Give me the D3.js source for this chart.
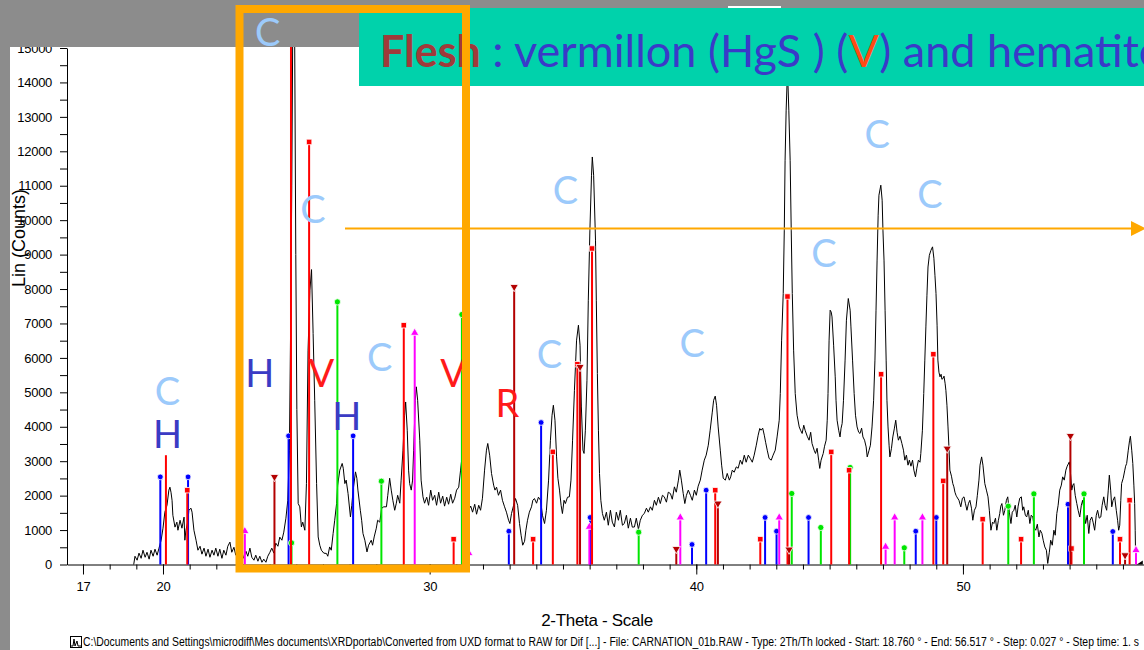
<!DOCTYPE html>
<html><head><meta charset="utf-8">
<script src="https://cdn.jsdelivr.net/npm/d3@7"></script>
<style>
html,body{margin:0;padding:0;background:#fff;overflow:hidden;}
svg{display:block;}
text{white-space:pre;}
</style></head>
<body><svg id="chart" width="1144" height="650"></svg>
<script>
// Measured scan: [2-theta (deg), intensity (counts)]
const scan = [
[18.90,0],[18.91,40],[18.95,240],[19.03,125],[19.10,330],[19.18,180],[19.25,415],[19.33,210],[19.40,355],[19.48,155],
[19.55,415],[19.63,240],[19.70,445],[19.78,270],[19.85,475],[19.93,705],[20.00,1055],[20.07,1520],[20.15,1720],[20.22,2160],
[20.26,2245],[20.30,2100],[20.34,1865],[20.37,1430],[20.45,1085],[20.52,1230],[20.56,995],[20.64,1285],[20.71,1055],[20.79,1375],
[20.82,705],[20.86,995],[20.94,1285],[20.97,1575],[21.05,1635],[21.09,1520],[21.16,995],[21.24,705],[21.31,415],[21.39,530],
[21.46,300],[21.54,475],[21.61,240],[21.69,445],[21.76,210],[21.84,415],[21.91,270],[21.98,475],[22.06,240],[22.13,445],
[22.21,180],[22.28,415],[22.36,270],[22.43,530],[22.51,650],[22.58,355],[22.66,500],[22.73,270],[22.81,445],[22.88,240],
[22.96,355],[23.03,180],[23.11,385],[23.18,240],[23.26,475],[23.33,210],[23.41,125],[23.48,270],[23.56,95],[23.63,240],
[23.71,65],[23.78,155],[23.86,65],[23.93,240],[24.01,355],[24.08,475],[24.16,330],[24.23,620],[24.31,530],[24.38,795],
[24.46,705],[24.53,940],[24.61,1345],[24.68,1865],[24.74,3320],[24.79,7190],[24.83,11010],[24.87,16000],[24.91,18000],[24.94,15000],
[24.98,9000],[25.02,4500],[25.07,1770],[25.13,1675],[25.19,1090],[25.24,1230],[25.32,995],[25.38,2350],[25.44,6225],[25.51,7965],
[25.57,8565],[25.63,6710],[25.69,4770],[25.76,2350],[25.82,800],[25.88,560],[25.94,415],[26.03,330],[26.13,320],[26.18,240],
[26.25,510],[26.31,415],[26.38,900],[26.44,1285],[26.51,1770],[26.55,2300],[26.63,2740],[26.72,2935],[26.76,2795],[26.82,2350],
[26.87,2450],[26.94,2060],[27.03,1380],[27.08,1720],[27.13,2160],[27.22,2690],[27.27,2505],[27.31,2160],[27.40,1575],[27.45,1285],
[27.50,900],[27.57,705],[27.65,365],[27.71,560],[27.81,705],[27.86,560],[27.92,800],[28.00,1055],[28.05,1285],[28.13,1230],
[28.20,1635],[28.28,1675],[28.38,1675],[28.43,2010],[28.50,2505],[28.56,2160],[28.62,1865],[28.69,1575],[28.75,1780],[28.80,2010],
[28.88,1780],[28.93,2450],[29.00,3320],[29.06,4335],[29.10,4720],[29.16,3900],[29.21,2740],[29.25,2350],[29.31,2160],[29.36,2450],
[29.40,3320],[29.46,4770],[29.50,5160],[29.55,4770],[29.63,3610],[29.68,2450],[29.75,1965],[29.81,1780],[29.89,1955],[29.96,1720],
[30.04,2160],[30.11,1865],[30.19,2010],[30.26,1720],[30.34,2100],[30.41,1780],[30.49,1985],[30.56,1695],[30.64,1955],[30.71,1750],
[30.79,2040],[30.86,1780],[30.94,1925],[31.01,2160],[31.09,2245],[31.16,2740],[31.20,3030],[31.24,2795],[31.31,2160],[31.39,1720],
[31.46,1575],[31.54,1695],[31.61,1520],[31.69,1750],[31.76,1460],[31.84,1720],[31.91,1575],[31.98,1925],[32.06,2740],[32.13,3320],
[32.18,3515],[32.25,3175],[32.32,2645],[32.40,2305],[32.45,2160],[32.51,2245],[32.58,2010],[32.66,2160],[32.73,1865],[32.81,1675],
[32.88,1520],[32.96,1285],[33.01,1190],[33.07,1480],[33.15,1720],[33.22,1915],[33.30,1720],[33.37,1190],[33.43,850],[33.49,560],
[33.56,675],[33.61,995],[33.67,1285],[33.74,1520],[33.82,1675],[33.87,1865],[33.93,1915],[34.01,1780],[34.08,1955],[34.16,1865],
[34.23,1430],[34.31,1190],[34.38,1575],[34.46,2450],[34.53,3610],[34.59,4335],[34.64,4625],[34.70,4190],[34.76,3125],[34.81,2505],
[34.87,2160],[34.93,1720],[34.98,1480],[35.04,1865],[35.09,1770],[35.17,1955],[35.24,1965],[35.30,2450],[35.36,3610],[35.43,5060],
[35.51,6515],[35.58,6950],[35.64,6370],[35.69,4575],[35.75,3320],[35.79,3225],[35.84,3900],[35.90,5350],[35.95,7675],[36.01,9710],
[36.07,11305],[36.10,11835],[36.15,11305],[36.22,9420],[36.25,7675],[36.29,5545],[36.33,3900],[36.37,2645],[36.42,1865],[36.48,1480],
[36.55,1285],[36.63,1520],[36.70,1140],[36.78,1575],[36.85,1230],[36.93,1090],[37.00,1520],[37.08,1285],[37.15,1575],[37.23,1140],
[37.30,1190],[37.38,1430],[37.45,1055],[37.53,1345],[37.60,1085],[37.68,1090],[37.75,1345],[37.83,1025],[37.90,1285],[37.98,1430],
[38.05,1480],[38.13,1635],[38.20,1520],[38.28,1675],[38.35,1575],[38.43,1865],[38.50,1720],[38.58,1955],[38.65,1770],[38.73,2010],
[38.80,1965],[38.88,1810],[38.95,2100],[39.03,2060],[39.10,1895],[39.18,2255],[39.25,2100],[39.33,2450],[39.38,2740],[39.44,2450],
[39.51,2060],[39.57,1770],[39.63,2010],[39.70,2160],[39.78,2010],[39.85,1865],[39.93,2160],[40.00,2010],[40.07,2275],[40.15,2450],
[40.22,2740],[40.30,3030],[40.37,3175],[40.45,3465],[40.52,3900],[40.60,4425],[40.65,4770],[40.71,4890],[40.76,4625],[40.82,3995],
[40.90,3320],[40.95,2885],[41.01,2505],[41.09,2450],[41.16,2645],[41.24,2450],[41.29,2545],[41.35,2740],[41.42,2680],[41.50,2835],
[41.57,2795],[41.65,3030],[41.72,2910],[41.80,3175],[41.87,2970],[41.95,3175],[42.02,3085],[42.10,2970],[42.17,3175],[42.25,3465],
[42.32,3755],[42.38,3950],[42.43,3900],[42.49,3960],[42.55,3755],[42.60,3550],[42.66,3320],[42.73,3080],[42.81,3030],[42.88,3175],
[42.96,3320],[43.03,3705],[43.11,4190],[43.15,4965],[43.20,6515],[43.26,7870],[43.30,9710],[43.33,11740],[43.37,13195],[43.42,14355],
[43.47,13195],[43.52,11740],[43.56,9710],[43.60,7870],[43.65,6225],[43.71,4965],[43.78,4335],[43.86,3995],[43.91,3900],[43.97,3805],
[44.03,4045],[44.08,3900],[44.16,3725],[44.23,3610],[44.29,3840],[44.34,3515],[44.42,3320],[44.47,3225],[44.53,3375],[44.59,3030],
[44.63,2790],[44.68,3030],[44.76,3225],[44.81,3435],[44.87,3610],[44.91,4190],[44.94,4965],[44.98,6515],[45.02,7385],[45.06,7330],
[45.09,7190],[45.15,6370],[45.21,5450],[45.24,4770],[45.28,4190],[45.34,3900],[45.39,3705],[45.43,3960],[45.47,4095],[45.52,4770],
[45.58,5935],[45.63,7095],[45.70,7725],[45.77,7385],[45.80,6900],[45.86,5935],[45.92,4965],[45.97,4335],[46.03,3995],[46.09,3840],
[46.14,3805],[46.20,3960],[46.25,3705],[46.31,3610],[46.37,3415],[46.41,3125],[46.48,3320],[46.53,3465],[46.59,3995],[46.65,4770],
[46.70,5935],[46.74,7385],[46.78,8840],[46.82,10145],[46.85,10725],[46.92,11015],[46.97,10580],[47.00,9710],[47.04,8840],[47.08,7385],
[47.12,5935],[47.15,4770],[47.19,3995],[47.23,3465],[47.26,3125],[47.32,3375],[47.37,3705],[47.43,3960],[47.48,4190],[47.53,3840],
[47.58,3610],[47.64,3725],[47.71,3515],[47.77,3320],[47.82,3030],[47.88,3175],[47.94,2885],[47.99,3030],[48.05,2855],[48.11,3030],
[48.16,2740],[48.22,2545],[48.27,2795],[48.33,3030],[48.39,2970],[48.42,3225],[48.48,3900],[48.53,4965],[48.57,5935],[48.61,6900],
[48.65,7820],[48.69,8640],[48.74,8980],[48.80,9125],[48.86,9225],[48.91,8895],[48.95,8400],[48.99,7870],[49.03,6950],[49.06,5935],
[49.10,5585],[49.14,5450],[49.18,5525],[49.21,5380],[49.25,5400],[49.29,5470],[49.33,5265],[49.36,5060],[49.40,4625],[49.44,3995],
[49.48,3320],[49.51,2740],[49.57,2565],[49.62,2350],[49.66,2255],[49.70,2100],[49.74,2010],[49.77,1965],[49.85,1865],[49.92,1675],
[49.98,1925],[50.04,1965],[50.09,1780],[50.15,1575],[50.21,1780],[50.26,1865],[50.32,1635],[50.37,1285],[50.43,1575],[50.49,1675],
[50.54,2010],[50.60,2450],[50.64,2885],[50.70,3125],[50.75,2885],[50.82,2350],[50.88,2160],[50.94,1965],[50.99,1575],[51.05,995],
[51.11,1230],[51.16,1190],[51.22,1345],[51.27,995],[51.33,1285],[51.38,1480],[51.42,1695],[51.46,1770],[51.52,1430],[51.57,1575],
[51.63,1865],[51.68,1965],[51.74,1520],[51.80,1190],[51.85,1520],[51.91,1575],[51.96,1720],[52.02,1380],[52.07,1695],[52.13,1925],
[52.19,1965],[52.24,1575],[52.28,1675],[52.34,1430],[52.39,1380],[52.45,1575],[52.51,1190],[52.56,1430],[52.62,1380],[52.68,1055],
[52.73,995],[52.79,1170],[52.85,800],[52.90,995],[52.96,900],[53.01,705],[53.07,510],[53.13,415],[53.18,30],[53.24,355],
[53.29,705],[53.35,560],[53.41,995],[53.46,850],[53.52,1480],[53.57,1720],[53.63,2160],[53.69,2305],[53.74,2545],[53.80,2450],
[53.86,2740],[53.91,2855],[53.99,2980],[54.04,2595],[54.08,2160],[54.12,2305],[54.16,2350],[54.21,2010],[54.27,1770],[54.32,1575],
[54.38,1380],[54.44,1720],[54.49,1865],[54.55,1520],[54.60,1190],[54.66,1430],[54.72,900],[54.77,1285],[54.83,1380],[54.88,1230],
[54.94,995],[55.00,1430],[55.05,1575],[55.11,1345],[55.17,1380],[55.22,1720],[55.28,1965],[55.33,1720],[55.39,1575],[55.45,2160],
[55.49,2595],[55.54,2160],[55.58,1675],[55.63,1865],[55.69,1965],[55.75,1575],[55.80,1285],[55.84,995],[55.88,1140],[55.92,1865],
[55.95,2350],[56.01,2505],[56.07,2740],[56.10,2855],[56.14,2935],[56.20,3320],[56.25,3610],[56.28,3725],[56.33,3320],[56.37,2935],
[56.41,2305],[56.44,1770],[56.46,995],[56.48,40],[56.52,10]
];

// Reference patterns: [2-theta (deg), intensity (counts)]
const patBlue = [[19.90,2544],[20.94,2544],[24.71,3735],[27.13,3735],[32.97,967],[34.18,4124],[36.02,1365],[39.84,581],
  [40.37,2158],[42.58,1365],[43.01,967],[44.21,1365],[48.23,967],[49.00,1365],[53.94,1751],[55.62,958]];
const patRed = [[20.91,2158],[25.48,12272],[29.03,6949],[30.90,735],[33.88,735],[34.62,3270],[35.54,5817],[36.09,9177],
  [40.71,2158],[42.40,735],[43.42,7783],[45.06,3270],[45.73,2738],[46.93,5526],[48.89,6107],[49.26,2428],[50.74,1316],
  [52.18,735],[54.07,464],[55.89,735],[56.25,1867]];
const patRedPlain = [[20.11,3174],[24.80,17000]];
const patDarkRed = [[24.18,2544],[33.17,8061],[35.64,5738],[39.25,453],[40.81,1771],[43.48,435],[49.41,3368],[54.03,3735],[56.08,270]];
const patGreen = [[24.82,627],[26.54,7626],[28.19,2419],[31.21,7260],[37.84,938],[43.58,2062],[44.67,1074],[45.77,2817],
  [47.80,484],[51.70,1693],[52.66,2051],[54.54,2051]];
const patMagenta = [[23.07,967],[29.44,6726],[31.47,328],[35.99,1093],[39.40,1365],[43.11,1365],[47.10,513],[47.44,1365],
  [48.48,1365],[56.49,416]];

// Axis ticks
const yTicks = d3.range(0, 15001, 500);
const xMinorTicks = d3.range(17, 57, 1);
const xMajorTicks = [17, 20, 30, 40, 50];

// Phase letters placed at [2-theta, counts] (text baseline)
const phaseLetters = [
  ["C",23.93,15066],["C",25.62,9926],["C",20.17,4626],["H",20.17,3386],["H",23.63,5158],["V",25.94,5158],
  ["H",26.89,3920],["C",28.13,5628],["V",30.88,5158],["R",32.92,4286],["C",34.49,5701],["C",35.09,10463],
  ["C",39.85,6020],["C",44.79,8634],["C",46.78,12089],["C",48.76,10361]
];
const letterColors = {C:"#9ccafb", H:"#3b3bc4", V:"#ff1a1a", R:"#ff1a1a"};

const W = 1144, H = 650;
const svg = d3.select("#chart");
const x = d3.scaleLinear().domain([16.4, 56.79]).range([67, 1144]);
const y = d3.scaleLinear().domain([0, 15000]).range([564.5, 48]);

svg.append("rect").attr("width", W).attr("height", H).attr("fill", "#fff");

svg.append("defs").append("clipPath").attr("id", "plotClip")
  .append("rect").attr("x", 67).attr("y", 47).attr("width", W - 67).attr("height", 518);

const tickFont = "'Liberation Sans Narrow','Arial Narrow','Liberation Sans',Arial,sans-serif";
const labelFont = "'Liberation Sans',Arial,sans-serif";

// Y axis
const gy = svg.append("g").attr("transform", `translate(${x.range()[0]},0)`)
  .call(d3.axisLeft(y).tickValues(yTicks).tickSize(7).tickSizeOuter(0)
    .tickFormat(d => d % 1000 === 0 ? d : ""));
gy.selectAll("text").attr("font-family", tickFont).attr("font-size", 13).attr("fill", "#000").attr("x", -15).attr("letter-spacing", -0.3);
gy.select(".domain").attr("stroke", "#000");

// X axis: minor then major ticks
const gxMinor = svg.append("g").attr("transform", `translate(0,${y(0)})`)
  .call(d3.axisBottom(x).tickValues(xMinorTicks).tickSize(5).tickSizeOuter(0).tickFormat(""));
gxMinor.select(".domain").attr("stroke", "#000");
const gxMajor = svg.append("g").attr("transform", `translate(0,${y(0)})`)
  .call(d3.axisBottom(x).tickValues(xMajorTicks).tickSize(10).tickSizeOuter(0).tickPadding(7));
gxMajor.select(".domain").remove();
gxMajor.selectAll("text").attr("font-family", tickFont).attr("font-size", 13).attr("fill", "#000").attr("letter-spacing", -0.3);

// Axis titles
svg.append("text").attr("x", 597).attr("y", 626).attr("text-anchor", "middle")
  .attr("font-family", labelFont).attr("font-size", 17).attr("letter-spacing", -0.3).text("2-Theta - Scale");
svg.append("text").attr("transform", "translate(25,238) rotate(-90)").attr("text-anchor", "middle")
  .attr("font-family", labelFont).attr("font-size", 18).text("Lin (Counts)");

// Plot content
const plot = svg.append("g").attr("clip-path", "url(#plotClip)");
plot.append("path").datum(scan)
  .attr("fill", "none").attr("stroke", "#000").attr("stroke-width", 1)
  .attr("d", d3.line().x(d => x(d[0])).y(d => y(d[1])));

const patterns = [
  {data: patBlue, color: "#0000ff", symbol: d3.symbolCircle, size: 26},
  {data: patGreen, color: "#00e600", symbol: d3.symbolCircle, size: 30},
  {data: patMagenta, color: "#ff00ff", symbol: d3.symbolTriangle, size: 30, rot: 0},
  {data: patRed, color: "#ff0000", symbol: d3.symbolSquare, size: 30},
  {data: patRedPlain, color: "#ff0000", symbol: null},
  {data: patDarkRed, color: "#b30000", symbol: d3.symbolTriangle, size: 30, rot: 180}
];
patterns.forEach(p => {
  const g = plot.append("g");
  g.selectAll("line").data(p.data).join("line")
    .attr("x1", d => x(d[0])).attr("x2", d => x(d[0]))
    .attr("y1", y(0)).attr("y2", d => y(d[1]))
    .attr("stroke", p.color).attr("stroke-width", 2);
  if (p.symbol) {
    g.selectAll("path").data(p.data).join("path")
      .attr("d", d3.symbol(p.symbol, p.size))
      .attr("transform", d => `translate(${x(d[0])},${y(d[1])}) rotate(${p.rot || 0})`)
      .attr("fill", p.color).attr("stroke", "#fff").attr("stroke-width", 0.8);
  }
});
// end-of-scan marker
plot.append("path")
  .attr("d", `M${x(56.52)},${y(0)} l6,0 l0,-4 z`).attr("fill", "#000");

// Frame bands
svg.append("rect").attr("x", 0).attr("y", 0).attr("width", W).attr("height", 47).attr("fill", "#8c8c8c");
svg.append("rect").attr("x", 0).attr("y", 0).attr("width", 10).attr("height", H).attr("fill", "#8c8c8c");
svg.append("rect").attr("x", 728).attr("y", 6).attr("width", 53).attr("height", 2).attr("fill", "#fff");

// Title banner
svg.append("rect").attr("x", 359).attr("y", 8).attr("width", W - 359).attr("height", 78).attr("fill", "#00d2ab");
const title = svg.append("text").attr("x", 380).attr("y", 67)
  .attr("font-family", "Lato,'Open Sans',sans-serif").attr("font-size", 45);
title.append("tspan").attr("font-weight", "bold").attr("font-size", 43).attr("fill", "#a03a3a").text("Flesh");
title.append("tspan").attr("fill", "#3a3ac8").text(" : vermillon (HgS ) (");
title.append("tspan").attr("fill", "#ff4a14").text("V");
title.append("tspan").attr("fill", "#3a3ac8").text(") and hematite");

// Phase letters
svg.append("g").selectAll("text").data(phaseLetters).join("text")
  .attr("x", d => x(d[1])).attr("y", d => y(d[2]))
  .attr("text-anchor", "middle").attr("font-family", "Lato,'Open Sans',sans-serif").attr("font-size", 38)
  .attr("fill", d => letterColors[d[0]]).text(d => d[0]);

// Highlight frame and arrow
svg.append("rect").attr("x", 239.5).attr("y", 9).attr("width", 226.5).attr("height", 559.5)
  .attr("fill", "none").attr("stroke", "#ffa800").attr("stroke-width", 8);
svg.append("line").attr("x1", 345).attr("x2", 1131).attr("y1", 228.5).attr("y2", 228.5)
  .attr("stroke", "#ffa800").attr("stroke-width", 2);
svg.append("path").attr("d", "M1131,221 L1146,228.5 L1131,236 Z").attr("fill", "#ffa800");

// Footer with scan info
const foot = svg.append("g");
foot.append("rect").attr("x", 70.5).attr("y", 636.5).attr("width", 11).attr("height", 11).attr("fill", "#fff").attr("stroke", "#000");
foot.append("path").attr("d", "M71,646 L73,646 L74,639 L75,646 L77,641 L78,646 L81,646").attr("fill", "none").attr("stroke", "#000");
foot.append("text").attr("x", 83).attr("y", 646).attr("font-family", tickFont).attr("font-size", 12)
  .attr("textLength", 1056).attr("lengthAdjust", "spacingAndGlyphs")
  .text("C:\\Documents and Settings\\microdiff\\Mes documents\\XRDportab\\Converted from UXD format to RAW for Dif [...] - File: CARNATION_01b.RAW - Type: 2Th/Th locked - Start: 18.760 \u00b0 - End: 56.517 \u00b0 - Step: 0.027 \u00b0 - Step time: 1. s");
</script>
</body></html>
